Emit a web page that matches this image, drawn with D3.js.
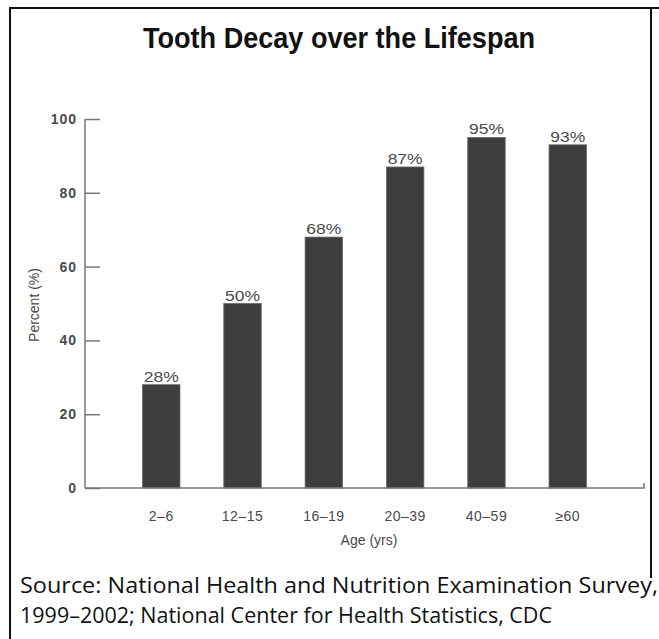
<!DOCTYPE html>
<html>
<head>
<meta charset="utf-8">
<script src="https://cdn.jsdelivr.net/npm/d3@7"></script>
<style>
  html, body { margin: 0; padding: 0; background: #fff; }
  svg { display: block; }
</style>
</head>
<body>
<svg id="chart" width="659" height="639"></svg>
<script>
const categories = ["2–6", "12–15", "16–19", "20–39", "40–59", "≥60"];
const values = [28, 50, 68, 87, 95, 93];
const valueLabels = ["28%", "50%", "68%", "87%", "95%", "93%"];
const yTicks = [0, 20, 40, 60, 80, 100];
const titleText = "Tooth Decay over the Lifespan";
const xTitle = "Age (yrs)";
const yTitle = "Percent (%)";
const sourceLines = [
  "Source:  National Health and Nutrition Examination Survey,",
  "1999–2002; National Center for Health Statistics, CDC"
];

const svg = d3.select("#chart");

// frame
svg.append("line").attr("x1", 10).attr("x2", 10).attr("y1", 8).attr("y2", 639)
  .attr("stroke", "#111").attr("stroke-width", 2);
svg.append("line").attr("x1", 9).attr("x2", 659).attr("y1", 8).attr("y2", 8)
  .attr("stroke", "#111").attr("stroke-width", 2);
svg.append("line").attr("x1", 651).attr("x2", 651).attr("y1", 8).attr("y2", 578)
  .attr("stroke", "#111").attr("stroke-width", 2);

// title
svg.append("text").attr("x", 339).attr("y", 48)
  .attr("text-anchor", "middle")
  .attr("font-family", "'Liberation Sans Narrow', 'Arial Narrow', 'Liberation Sans', Arial, sans-serif")
  .attr("font-weight", "bold").attr("font-size", 29)
  .attr("textLength", 392).attr("lengthAdjust", "spacingAndGlyphs")
  .attr("fill", "#111").text(titleText);

const x = d3.scaleBand().domain(categories).range([85, 644])
  .paddingInner(0.539).paddingOuter(0.707);
const y = d3.scaleLinear().domain([0, 100]).range([488, 119]);

const axisColor = "#777";
const textColor = "#4a4a4a";
const fontFam = "'Liberation Sans', Arial, sans-serif";

// bars
svg.append("g").selectAll("rect").data(values).join("rect")
  .attr("x", (d, i) => x(categories[i]))
  .attr("width", x.bandwidth())
  .attr("y", d => y(d))
  .attr("height", d => y(0) - y(d))
  .attr("fill", "#3d3d3d")
  .attr("stroke", "#6a6a6a").attr("stroke-width", 0.8);

// value labels
svg.append("g").selectAll("text").data(values).join("text")
  .attr("x", (d, i) => x(categories[i]) + x.bandwidth() / 2)
  .attr("y", d => y(d) - 3)
  .attr("text-anchor", "middle")
  .attr("font-family", fontFam).attr("font-size", 14)
  .attr("textLength", 35).attr("lengthAdjust", "spacingAndGlyphs")
  .attr("fill", "#4a4a4a")
  .text((d, i) => valueLabels[i]);

// y axis (ticks pointing inward)
const yAxis = d3.axisRight(y).tickValues(yTicks).tickSize(15).tickFormat("");
const gy = svg.append("g").attr("transform", "translate(85,0)").call(yAxis);
gy.select(".domain").attr("stroke", axisColor).attr("stroke-width", 1.5).attr("d", `M0,${y(100)}V${y(0)}`);
gy.selectAll(".tick line").attr("stroke", axisColor).attr("stroke-width", 1.5);
svg.append("g").selectAll("text").data(yTicks).join("text")
  .attr("x", 77).attr("y", d => y(d)).attr("dy", "0.36em")
  .attr("text-anchor", "end")
  .attr("font-family", fontFam).attr("font-size", 14).attr("font-weight", "bold")
  .attr("letter-spacing", 1)
  .attr("fill", textColor).text(d => d);

// x axis
const xAxis = d3.axisBottom(x).tickSize(0).tickPadding(23);
const gx = svg.append("g").attr("transform", `translate(0,${y(0)})`).call(xAxis);
gx.select(".domain").attr("stroke", axisColor).attr("stroke-width", 1.5)
  .attr("d", "M85,0H644V-5");
gx.selectAll(".tick text").attr("font-family", fontFam).attr("font-size", 14)
  .attr("letter-spacing", 0.5)
  .attr("fill", textColor);

// axis titles
svg.append("text").attr("x", 369).attr("y", 545).attr("text-anchor", "middle")
  .attr("font-family", fontFam).attr("font-size", 14).attr("fill", textColor).text(xTitle);
svg.append("text").attr("transform", "translate(39,305) rotate(-90)")
  .attr("text-anchor", "middle")
  .attr("font-family", fontFam).attr("font-size", 14).attr("fill", textColor).text(yTitle);

// source
const srcLens = [638, 532];
svg.append("g").selectAll("text").data(sourceLines).join("text")
  .attr("x", 20).attr("y", (d, i) => 593 + i * 30)
  .attr("font-family", "'Open Sans', 'Noto Sans', sans-serif").attr("font-size", 21)
  .attr("textLength", (d, i) => srcLens[i]).attr("lengthAdjust", "spacingAndGlyphs")
  .attr("fill", "#111").text(d => d);
</script>
</body>
</html>
